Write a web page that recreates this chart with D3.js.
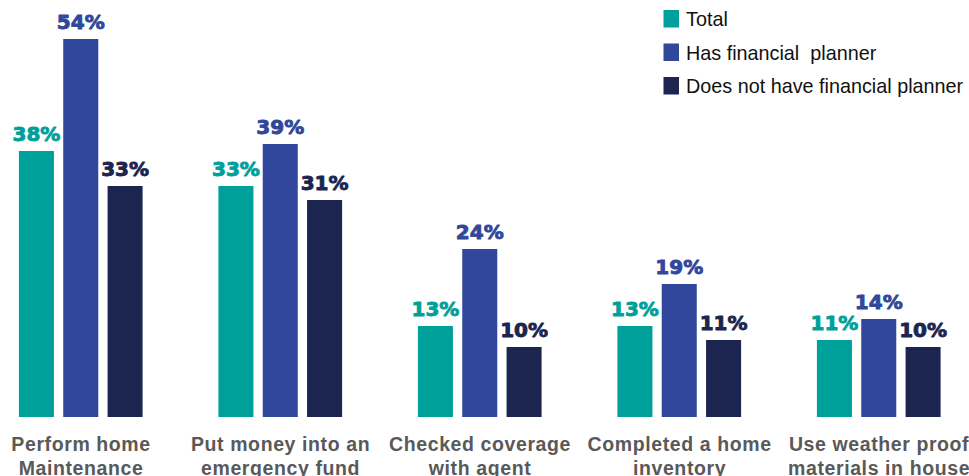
<!DOCTYPE html>
<html><head><meta charset="utf-8">
<script src="https://cdn.jsdelivr.net/npm/d3@7"></script>
<style>body{margin:0;background:#fff}svg{display:block}</style>
</head><body>
<svg id="chart" width="969" height="476"></svg>
<script>
const categories = [
  ["Perform home", "Maintenance"],
  ["Put money into an", "emergency fund"],
  ["Checked coverage", "with agent"],
  ["Completed a home", "inventory"],
  ["Use weather proof", "materials in house"]
];
const seriesNames = ["Total", "Has financial  planner", "Does not have financial planner"];
const totalValues = [38, 33, 13, 13, 11];
const hasPlannerValues = [54, 39, 24, 19, 14];
const noPlannerValues = [33, 31, 10, 11, 10];
const colors = ["#00A09A", "#30479B", "#1B2550"];

const series = [totalValues, hasPlannerValues, noPlannerValues];
const svg = d3.select("#chart");

const x0 = d3.scaleBand().domain(d3.range(categories.length))
  .range([-19, 978.5]).paddingInner(0.38).paddingOuter(0.19);
const x1 = d3.scaleBand().domain(d3.range(series.length))
  .range([0, x0.bandwidth()]).paddingInner(0.21).paddingOuter(0);
const y = d3.scaleLinear().domain([0, 54]).range([417, 39]);

const groups = svg.selectAll("g.grp").data(categories).join("g")
  .attr("class", "grp")
  .attr("transform", (d, i) => `translate(${x0(i)},0)`);

groups.each(function(cat, ci) {
  const g = d3.select(this);
  const vals = series.map((s, si) => ({si, v: s[ci]}));
  g.selectAll("rect").data(vals).join("rect")
    .attr("x", d => x1(d.si))
    .attr("width", x1.bandwidth())
    .attr("y", d => y(d.v))
    .attr("height", d => y(0) - y(d.v))
    .attr("fill", d => colors[d.si]);
  g.selectAll("text.val").data(vals).join("text")
    .attr("class", "val")
    .attr("x", d => x1(d.si) + x1.bandwidth() / 2)
    .attr("y", d => y(d.v) - 10.5)
    .attr("text-anchor", "middle")
    .attr("font-family", "DejaVu Sans")
    .attr("font-weight", "bold")
    .attr("font-size", "20px")
    .attr("fill", d => colors[d.si])
    .attr("stroke", d => colors[d.si])
    .attr("stroke-width", 0.9)
    .attr("stroke-linejoin", "round")
    .text(d => d.v + "%");
  const lbl = g.append("text")
    .attr("text-anchor", "middle")
    .attr("font-family", "Liberation Sans, Arial, sans-serif")
    .attr("font-weight", "bold")
    .attr("font-size", "19.5px")
    .attr("letter-spacing", "0.6px")
    .attr("fill", "#595959");
  cat.forEach((line, li) => {
    lbl.append("tspan")
      .attr("x", x0.bandwidth() / 2 + 0.3)
      .attr("y", 450.5 + li * 24.5)
      .text(line);
  });
});

const legend = svg.append("g");
seriesNames.forEach((name, i) => {
  const yb = 26 + i * 33.5;
  legend.append("rect")
    .attr("x", 663.5).attr("y", yb - 16)
    .attr("width", 15.5).attr("height", 17.5)
    .attr("fill", colors[i]);
  legend.append("text")
    .attr("x", 686).attr("y", yb)
    .attr("font-family", "Liberation Sans, Arial, sans-serif")
    .attr("font-size", "19.8px")
    .attr("fill", "#111")
    .style("white-space", "pre")
    .text(name);
});
</script>
</body></html>
